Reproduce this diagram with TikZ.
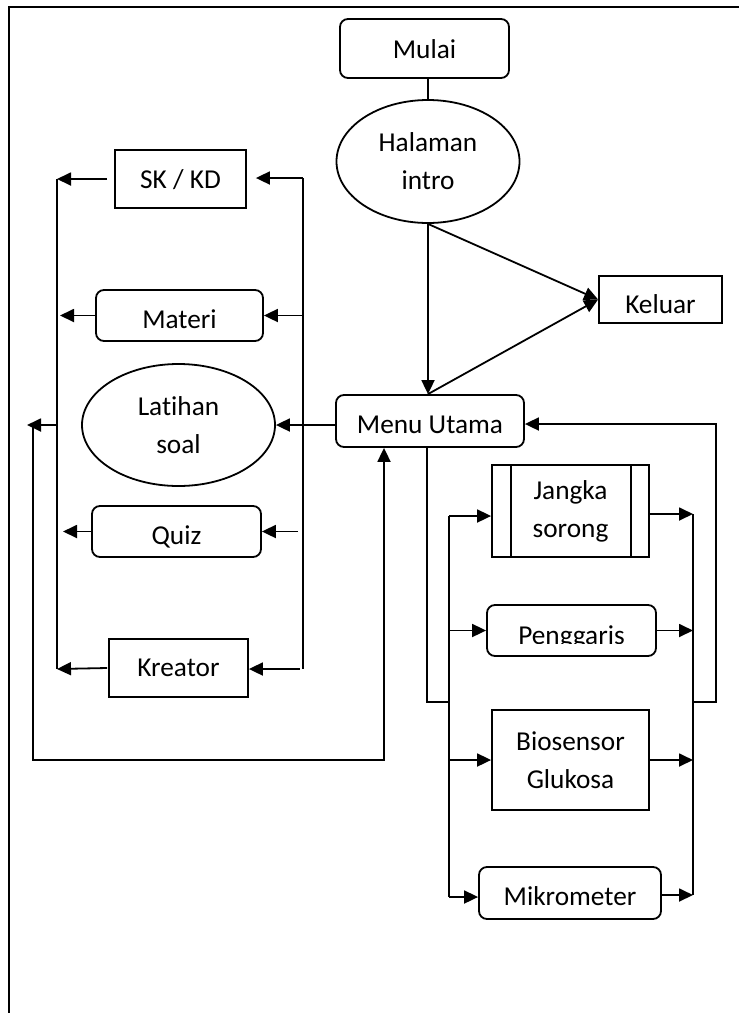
\documentclass[tikz,border=0pt]{standalone}
\usepackage{fontspec}
\setmainfont[Ligatures={NoCommon}]{Carlito}
\usetikzlibrary{arrows.meta,shapes.geometric}
\tikzset{
  ln/.style={line width=1.8pt},
  arr/.style={ln,-{Triangle[length=14pt,width=13pt]}},
  base/.style={draw,line width=1.8pt,inner sep=0pt,align=center,
    font=\fontsize{27.3pt}{38pt}\selectfont},
  rbox/.style={base,rectangle,rounded corners=8pt},
  sbox/.style={base,rectangle},
  ell/.style={base,ellipse},
  one/.style={text height=24pt,text depth=0pt},
  oneb/.style={text height=18pt,text depth=0pt},
}
\begin{document}
\begin{tikzpicture}[x=1pt,y=-1pt]
\useasboundingbox (0,0) rectangle (739,1013);
% frame
\draw[line width=2.2pt] (739,7) -- (9,7) -- (9,1013);
% nodes
\node[rbox,one,text height=20pt,minimum width=169pt,minimum height=59pt] (mulai) at (424.5,48.5) {Mulai};
\node[ell,minimum width=183pt,minimum height=123pt] (intro) at (428,161.5) {Halaman\\intro};
\node[sbox,one,text height=27pt,minimum width=123pt,minimum height=47pt] (keluar) at (660.5,299.5) {Keluar};
\node[rbox,one,minimum width=188pt,minimum height=52pt] (menu) at (430,421) {Menu Utama};
\node[sbox,oneb,minimum width=131pt,minimum height=58pt] (skkd) at (180.5,179) {SK / KD};
\node[rbox,one,text height=25pt,minimum width=167pt,minimum height=51pt] (materi) at (179.5,315.5) {Materi};
\node[ell,minimum width=193pt,minimum height=122pt] (lat) at (178.5,425) {Latihan\\soal};
\node[rbox,one,text height=26pt,minimum width=169pt,minimum height=51pt] (quiz) at (176.5,531.5) {Quiz};
\node[sbox,oneb,text height=16pt,minimum width=139pt,minimum height=58pt] (kreator) at (178.5,668) {Kreator};
\node[sbox,minimum width=157pt,minimum height=92pt] (jangka) at (570.5,511) {Jangka\\sorong};
\draw[ln] ([xshift=20pt]jangka.north west) -- ([xshift=20pt]jangka.south west);
\draw[ln] ([xshift=-19pt]jangka.north east) -- ([xshift=-19pt]jangka.south east);
\node[rbox,minimum width=169pt,minimum height=51pt] (peng) at (571.5,630.5) {};
\begin{scope}
\clip (490,600) rectangle (653,643.5);
\node[font=\fontsize{27.3pt}{38pt}\selectfont,inner sep=0pt,anchor=base] (pengtxt) at (571.5,644) {Penggaris};
\end{scope}
\node[sbox,minimum width=157pt,minimum height=100pt] (bio) at (570.5,760) {Biosensor\\Glukosa};
\node[rbox,one,minimum width=182pt,minimum height=52pt] (mikro) at (570,893) {Mikrometer};
% top connectors
\draw[ln] (intro.north |- mulai.south) -- (intro.north);
\draw[arr] (intro.south) -- (intro.south |- menu.north);
\draw[arr] (intro.south) -- (keluar.west);
\draw[arr] (intro.south |- menu.north) -- (keluar.west);
% left column
\coordinate (rbT) at (303,178);
\coordinate (rbB) at (303,669);
\draw[ln] (rbT) -- (rbB);
\draw[arr,shorten >=9pt] (rbT) -- (rbT -| skkd.east);
\draw[arr] (rbT |- materi.east) -- (materi.east);
\draw[arr] ([xshift=-5pt]rbT |- quiz.east) -- (quiz.east);
\draw[arr] ([xshift=-3pt]rbB) -- (rbB -| kreator.east);
\draw[arr] (menu.west |- lat.east) -- (lat.east);
\coordinate (lbT) at (57,179);
\coordinate (lbB) at (57,669);
\draw[ln] (lbT) -- (lbB);
\draw[arr] ([xshift=-7pt]skkd.west) -- (lbT |- skkd.west);
\draw[arr] (materi.west) -- ([xshift=3pt]lbT |- materi.west);
\draw[arr] (quiz.west) -- ([xshift=6pt]lbT |- quiz.west);
\draw[arr] ([xshift=-1pt]kreator.west) -- (lbB);
\coordinate (retT) at (33,425);
\coordinate (retB) at (33,760);
\draw[arr] (lbT |- lat.west) -- ([xshift=-6pt]retT);
\draw[arr] (retT) -- (retB) -| ([xshift=-46pt]menu.south);
% right side
\coordinate (j1) at (427,702);
\coordinate (b2T) at (449,516);
\coordinate (b2B) at (449,897);
\draw[ln] ([xshift=-3pt]menu.south) -- (j1) -- (j1 -| b2T);
\draw[ln] (b2T) -- (b2B);
\draw[arr] (b2T) -- (b2T -| jangka.west);
\draw[arr] (b2T |- peng.west) -- (peng.west);
\draw[arr] (b2T |- bio.west) -- (bio.west);
\draw[arr] (b2B) -- (b2B -| mikro.west);
\coordinate (b3T) at (693,514);
\coordinate (b3B) at (693,895);
\draw[ln] (b3T) -- (b3B);
\draw[arr] (b3T -| jangka.east) -- (b3T);
\draw[arr] (peng.east) -- (b3T |- peng.east);
\draw[arr] (bio.east) -- (b3T |- bio.east);
\draw[arr] (b3B -| mikro.east) -- (b3B);
\coordinate (r1) at (716,702);
\coordinate (r2) at (716,424);
\draw[arr] (r1 -| b3T) -- (r1) -- (r2) -- (r2 -| menu.east);
\end{tikzpicture}
\end{document}
